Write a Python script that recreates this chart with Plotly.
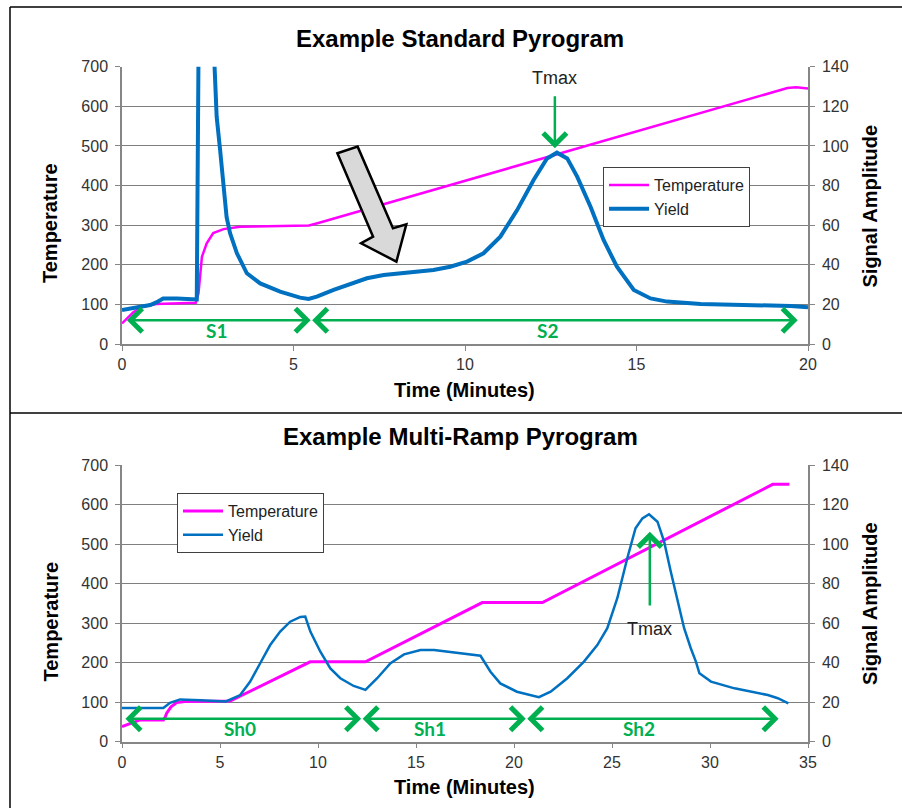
import plotly.graph_objects as go

# ---------------- data: standard pyrogram ----------------
std_temp_time = [0, 0.33, 0.6, 1.0, 2.15, 2.23, 2.33, 2.47, 2.66, 2.96, 3.44, 5.45, 5.7, 19.4, 19.65, 20.0]
std_temp = [52, 80, 94, 101, 104, 128, 220, 254, 280, 290, 296, 299, 305, 646, 648, 645]

std_yield_time = [0, 0.5, 0.82, 1.0, 1.2, 1.6, 2.08, 2.18, 2.23, 2.4, 2.65, 2.68, 2.76, 2.86, 3.05,
                  3.15, 3.35, 3.64, 4.03, 4.61, 5.19, 5.44, 5.68, 6.17, 6.65, 7.14, 7.63, 8.11,
                  8.6, 9.08, 9.57, 10.06, 10.54, 11.03, 11.52, 12.0, 12.39, 12.68, 12.98, 13.27,
                  13.66, 14.04, 14.43, 14.92, 15.41, 15.89, 16.87, 18.32, 19.49, 20.0]
std_yield = [17.2, 18.8, 19.7, 21.0, 23.0, 23.0, 22.2, 22.5, 145, 300, 160, 145, 114.7, 98, 64,
             56, 45.8, 35.7, 30.6, 26.4, 23.4, 22.7, 23.9, 27.3, 30.1, 33.2, 34.8, 35.7,
             36.5, 37.4, 39.0, 41.6, 45.8, 54.2, 67.6, 82.8, 93.7, 96.6, 93.7, 84.5,
             69.3, 52.5, 39.0, 27.3, 23.0, 21.4, 20.2, 19.7, 19.2, 18.5]

# ---------------- data: multi-ramp pyrogram ----------------
mr_temp_time = [0, 0.5, 0.92, 2.11, 2.2, 2.28, 2.5, 2.79, 3.3, 5.52, 9.6, 12.42, 18.38, 21.45, 33.2, 34.05]
mr_temp = [38, 48, 55, 55, 62, 72, 88, 99, 102, 103, 202, 202, 352, 352, 651, 651]

mr_yield_time = [0, 2.11, 2.45, 2.96, 4.0, 5.0, 5.3, 6.03, 6.54, 7.05, 7.56, 8.07, 8.58, 9.1, 9.35,
                 9.61, 10.12, 10.63, 11.14, 11.82, 12.42, 13.02, 13.7, 14.39, 15.23, 15.92, 16.76,
                 18.29, 18.8, 19.3, 20.15, 21.27, 21.87, 22.72, 23.57, 24.25, 24.76, 25.27, 25.78,
                 26.2, 26.55, 26.89, 27.32, 27.66, 28.0, 28.36, 28.68, 29.02, 29.28, 29.46, 30.05,
                 31.25, 32.95, 33.46, 34.0]
mr_yield = [17, 17, 19.7, 21.4, 21.0, 20.7, 20.4, 23.6, 30.4, 39.7, 48.9, 55.7, 60.7, 63.1, 63.3,
            55.7, 45.5, 37.1, 32.1, 28.2, 26.2, 32.1, 39.7, 44.2, 46.4, 46.4, 45.5,
            43.5, 35.4, 29.5, 25.3, 22.5, 25.3, 32.1, 40.5, 48.9, 57.4, 72.6, 92.8,
            108, 113, 115.1, 111.3, 101.2, 86, 70.9, 57.4, 47.3, 40.5, 34.6, 30.4,
            27, 23.6, 22, 19.4]

# ---------------- annotations data ----------------
std_seg_labels = ["S1", "S2"]
std_seg_start = [0.1, 5.5]
std_seg_end = [5.5, 19.7]
std_seg_label_x = [2.76, 12.4]
seg_y_std = 60
seg_label_y_std = 33

mr_seg_labels = ["Sh0", "Sh1", "Sh2"]
mr_seg_start = [0.1, 12.2, 20.6]
mr_seg_end = [12.2, 20.6, 33.5]
mr_seg_label_x = [6.0, 15.7, 26.4]
seg_y_mr = 58
seg_label_y_mr = 34

std_tmax = dict(t=12.62, head=494, tail=629, text_y=671)
mr_tmax = dict(t=26.93, head=531, tail=341, text_y=285)

# big grey arrow (in top-chart data coordinates: minutes, temperature)
grey_arrow_t = [6.28, 6.87, 7.90, 8.29, 8.00, 6.97, 7.32]
grey_arrow_T = [481.6, 498.2, 292.2, 302.3, 207.8, 254.3, 271.0]

# ---------------- styling ----------------
FONT = "Liberation Sans, Arial, sans-serif"
MAGENTA = "#FF00FF"
BLUE = "#0070C0"
GREEN = "#00B050"
AXIS = "#868686"
TICKFONT = dict(family=FONT, size=16, color="#333333")

W, H = 902, 808
ML, MR, MT, MB = 40, 40, 40, 40
PW, PH = W - ML - MR, H - MT - MB

def px(x):
    return (x - ML) / PW

def py(y):
    return (H - MB - y) / PH

fig = go.Figure()

fig.add_trace(go.Scatter(x=std_temp_time, y=std_temp, name="Temperature", mode="lines",
                         line=dict(color=MAGENTA, width=2.5), xaxis="x", yaxis="y", legend="legend"))
fig.add_trace(go.Scatter(x=std_yield_time, y=std_yield, name="Yield", mode="lines",
                         line=dict(color=BLUE, width=4), xaxis="x", yaxis="y2", legend="legend"))
fig.add_trace(go.Scatter(x=mr_temp_time, y=mr_temp, name="Temperature", mode="lines",
                         line=dict(color=MAGENTA, width=3), xaxis="x2", yaxis="y3", legend="legend2"))
fig.add_trace(go.Scatter(x=mr_yield_time, y=mr_yield, name="Yield", mode="lines",
                         line=dict(color=BLUE, width=2.5), xaxis="x2", yaxis="y4", legend="legend2"))

xdom = [px(122), px(808)]
top_dom = [py(344), py(66.7)]
bot_dom = [py(741.7), py(465)]

def xax(rng, dtick, anchor):
    return dict(domain=xdom, range=rng, dtick=dtick, tick0=0, anchor=anchor, automargin=False,
                showline=True, linecolor=AXIS, linewidth=1.5, ticks="outside", ticklen=5,
                tickcolor=AXIS, tickfont=TICKFONT, showgrid=False, zeroline=False, fixedrange=True)

def yax(dom, anchor, primary):
    d = dict(domain=dom, anchor=anchor, showline=True, linecolor=AXIS, linewidth=1.5,
             ticks="outside", ticklen=5, tickcolor=AXIS, tickfont=TICKFONT, zeroline=False,
             ticklabelstandoff=4, automargin=False, fixedrange=True)
    if primary:
        d.update(range=[0, 700], dtick=100, tick0=0, showgrid=True, gridcolor="#7f7f7f", gridwidth=1)
    else:
        d.update(range=[0, 140], dtick=20, tick0=0, showgrid=False, side="right")
    return d

legend_style = dict(xanchor="left", yanchor="top", bgcolor="white", bordercolor="#404040",
                    borderwidth=1, itemwidth=40, tracegroupgap=0,
                    font=dict(family=FONT, size=16, color="#222"))

layout = dict(
    width=W, height=H, margin=dict(l=ML, r=MR, t=MT, b=MB, autoexpand=False),
    paper_bgcolor="white", plot_bgcolor="white",
    xaxis=xax([0, 20], 5, "y"),
    xaxis2=xax([0, 35], 5, "y3"),
    yaxis=yax(top_dom, "x", True),
    yaxis2=dict(yax(top_dom, "x", False), overlaying="y"),
    yaxis3=yax(bot_dom, "x2", True),
    yaxis4=dict(yax(bot_dom, "x2", False), overlaying="y3"),
    legend=dict(legend_style, x=px(603), y=py(167)),
    legend2=dict(legend_style, x=px(177), y=py(493)),
    showlegend=True,
)
fig.update_layout(**layout)

ann = []

def paper_text(text, x, y, size, angle=0, bold=True):
    ann.append(dict(text=("<b>%s</b>" % text) if bold else text, x=px(x), y=py(y),
                    xref="paper", yref="paper", xanchor="center", yanchor="middle",
                    showarrow=False, textangle=angle, font=dict(family=FONT, size=size, color="black")))

# titles
paper_text("Example Standard Pyrogram", 460, 38, 24)
paper_text("Example Multi-Ramp Pyrogram", 460, 436, 24)
# axis titles
for ypos in (390, 787):
    paper_text("Time (Minutes)", 464, ypos, 20)
for ypos in (223, 621.5):
    paper_text("Temperature", 50, ypos, 20, angle=-90)
for ypos in (206.5, 604):
    paper_text("Signal Amplitude", 870, ypos, 20, angle=-90)

# segment arrows
def seg_arrows(labels, starts, ends, lx, yline, ylab, xr, yr):
    for lab, s, e, x in zip(labels, starts, ends, lx):
        ann.append(dict(x=e, y=yline, ax=s, ay=yline, xref=xr, yref=yr, axref=xr, ayref=yr,
                        text="", showarrow=True, arrowside="end+start", arrowhead=4, startarrowhead=4,
                        arrowsize=1.8, startarrowsize=1.8, arrowwidth=2.5, arrowcolor=GREEN))
        ann.append(dict(x=x, y=ylab, xref=xr, yref=yr, text="<b>" + lab + "</b>", showarrow=False,
                        xanchor="center", yanchor="middle",
                        font=dict(family="Lato, Open Sans, sans-serif", size=19, color=GREEN)))

seg_arrows(std_seg_labels, std_seg_start, std_seg_end, std_seg_label_x, seg_y_std, seg_label_y_std, "x", "y")
seg_arrows(mr_seg_labels, mr_seg_start, mr_seg_end, mr_seg_label_x, seg_y_mr, seg_label_y_mr, "x2", "y3")

# Tmax arrows
for tm, xr, yr in ((std_tmax, "x", "y"), (mr_tmax, "x2", "y3")):
    ann.append(dict(x=tm["t"], y=tm["head"], ax=tm["t"], ay=tm["tail"], xref=xr, yref=yr,
                    axref=xr, ayref=yr, text="", showarrow=True, arrowhead=4, arrowsize=1.8,
                    arrowwidth=2.5, arrowcolor=GREEN))
    ann.append(dict(x=tm["t"], y=tm["text_y"], xref=xr, yref=yr, text="Tmax", showarrow=False,
                    xanchor="center", yanchor="middle",
                    font=dict(family=FONT, size=18, color="#222")))

fig.update_layout(annotations=ann)

# grey arrow shape
path = "M " + " L ".join(f"{t},{T}" for t, T in zip(grey_arrow_t, grey_arrow_T)) + " Z"
shapes = [dict(type="path", path=path, xref="x", yref="y", fillcolor="#D9D9D9",
               line=dict(color="black", width=2.5), layer="above")]
# frame lines
for (x0, y0, x1, y1) in [(10, 7, 10, 808), (10, 7, 902, 7), (10, 413, 902, 413)]:
    shapes.append(dict(type="line", xref="paper", yref="paper", x0=px(x0), y0=py(y0), x1=px(x1), y1=py(y1),
                       line=dict(color="black", width=1.5)))
fig.update_layout(shapes=shapes)

fig.write_html("out.html", config={"displayModeBar": False},
               post_script="document.body.style.margin='0px';document.body.style.overflow='hidden';")
